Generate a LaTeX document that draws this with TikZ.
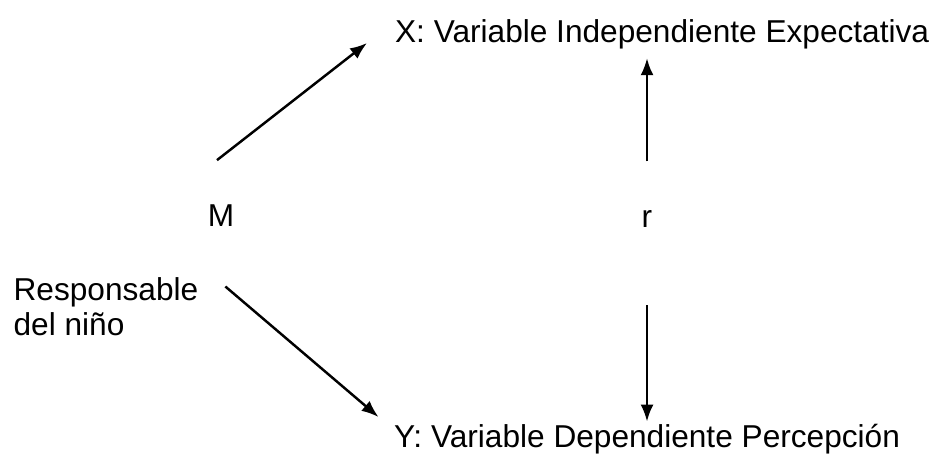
\documentclass[tikz,border=0pt]{standalone}
\usepackage{fontspec}
\setmainfont{Liberation Sans}
\usetikzlibrary{arrows.meta}

\begin{document}
\begin{tikzpicture}[
  lbl/.style={inner sep=1pt, font=\fontsize{18}{20}\selectfont, align=left},
  arr/.style={-{Latex[length=3.4mm,width=2.6mm]}, line width=1.4pt}
]
\useasboundingbox (0,0) rectangle (18.8,9.06);
\node[lbl, anchor=base west] (X) at (7.86,8.2) {X: Variable Independiente Expectativa};
\node[lbl, anchor=base west] (Y) at (7.84,0.12) {Y: Variable Dependiente Percepción};
\node[lbl, anchor=base] (M) at (4.42,4.52) {M};
\node[lbl, anchor=base] (r) at (12.94,4.5) {r};
\node[lbl, anchor=north west] (resp) at (0.23,3.56) {Responsable\\del niño};

\coordinate (m1) at ([xshift=-0.08cm, yshift=0.86cm]M.north);
\coordinate (m2) at ([xshift=0.5cm, yshift=-0.23cm]resp.north east);
\coordinate (x1) at ([xshift=-0.52cm]X.base west);
\coordinate (y1) at ([xshift=-0.27cm, yshift=0.6cm]Y.base west);

\draw[arr] (m1) -- (x1);
\draw[arr] (m2) -- (y1);
\draw[arr, shorten <=0.95cm, shorten >=0.13cm] (r.north) -- (r.north |- X.south);
\draw[arr, shorten <=1.5cm] (r.south) -- (r.south |- Y.north);
\end{tikzpicture}
\end{document}
